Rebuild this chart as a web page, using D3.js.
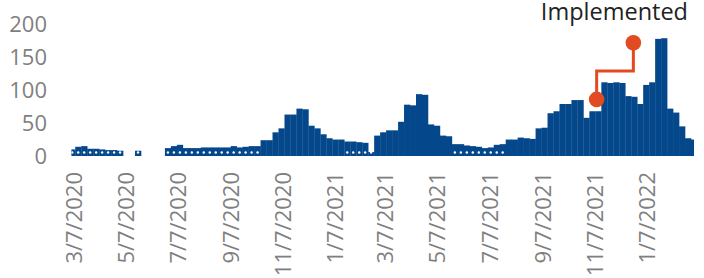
<!DOCTYPE html>
<html>
<head>
<meta charset="utf-8">
<script src="https://cdn.jsdelivr.net/npm/d3@7"></script>
<style>
  body { margin: 0; background: #fff; }
  svg { display: block; font-family: "Open Sans", sans-serif; }
</style>
</head>
<body>
<div id="wrapper"></div>
<script>
// weekly counts, first week centred on 2020-03-05
const firstWeek = new Date(2020, 2, 5)
const weeklyValues = [
  10, 14, 15, 11, 11, 10, 9, 9, 8, 0, 0, 8, 0, 0, 0, 0,
  12, 15, 17, 12, 12, 12, 13, 13, 13, 13, 13,
  15, 13, 14, 15, 15, 24, 24, 36, 42, 63, 63, 72, 71, 46, 42, 33, 27, 25, 25, 22, 22, 21, 20,
  6, 31, 36, 39, 39, 52, 78, 77, 94, 93, 48, 46, 31, 30, 18, 18,
  16, 15, 14, 12, 13, 17, 18, 25, 25, 28, 27, 26, 42, 43, 65, 68, 79, 79, 85, 85,
  58, 68, 68, 112, 111, 112, 111, 91, 90, 79, 108, 112, 178, 179, 72, 66, 45, 27, 25,
]
const weekDates = weeklyValues.map((d, i) => d3.timeDay.offset(firstWeek, i * 7))

// annotation ("Implemented")
const noteDates = [new Date(2021, 10, 9), new Date(2021, 11, 22)]
const noteValues = [86, 172]
const noteText = "Implemented"

const xTickDates = [
  "3/7/2020", "5/7/2020", "7/7/2020", "9/7/2020", "11/7/2020", "1/7/2021",
  "3/7/2021", "5/7/2021", "7/7/2021", "9/7/2021", "11/7/2021", "1/7/2022",
]
const yTicks = [0, 50, 100, 150, 200]

const parseDate = d3.timeParse("%m/%d/%Y")
const formatDate = d3.timeFormat("%-m/%-d/%Y")

const dimensions = { width: 704, height: 278 }
const barColor = "#04478a"
const noteColor = "#e24a21"
const tickColor = "#7f7f7f"

const wrapper = d3.select("#wrapper")
  .append("svg")
  .attr("width", dimensions.width)
  .attr("height", dimensions.height)

// scales
const xScale = d3.scaleTime()
  .domain([new Date(2020, 2, 4), new Date(2022, 2, 3)])
  .range([71.4, 694])

const yScale = d3.scaleLinear()
  .domain([0, 200])
  .range([156, 24.4])

const weekWidth = xScale(d3.timeDay.offset(firstWeek, 7)) - xScale(firstWeek)

wrapper.append("defs")
  .append("clipPath")
  .attr("id", "plot-clip")
  .append("rect")
  .attr("x", xScale.range()[0])
  .attr("y", 0)
  .attr("width", xScale.range()[1] - xScale.range()[0])
  .attr("height", dimensions.height)

// bars
const bars = wrapper.append("g").attr("clip-path", "url(#plot-clip)")
bars.selectAll("rect")
  .data(weeklyValues)
  .join("rect")
  .attr("x", (d, i) => xScale(weekDates[i]) - weekWidth / 2)
  .attr("width", weekWidth + 0.3)
  .attr("y", d => yScale(d))
  .attr("height", d => yScale(0) - yScale(d))
  .attr("fill", barColor)

// tiny white marks inside the low bars
bars.selectAll("circle")
  .data(weeklyValues.map((v, i) => ({ v, date: weekDates[i] })).filter(d => d.v > 0 && d.v < 23))
  .join("circle")
  .attr("cx", d => xScale(d.date))
  .attr("cy", yScale(0) - 3.5)
  .attr("r", 1.2)
  .attr("fill", "#fff")

// y axis labels
wrapper.append("g")
  .selectAll("text")
  .data(yTicks)
  .join("text")
  .attr("x", 47)
  .attr("y", d => yScale(d))
  .attr("dy", "0.35em")
  .attr("text-anchor", "end")
  .attr("font-size", 22)
  .attr("fill", tickColor)
  .text(d => d)

// x axis labels
wrapper.append("g")
  .selectAll("text")
  .data(xTickDates.map(parseDate))
  .join("text")
  .attr("transform", d => `translate(${xScale(d)},172) rotate(-90)`)
  .attr("dy", "0.35em")
  .attr("text-anchor", "end")
  .attr("font-size", 22)
  .attr("fill", tickColor)
  .text(d => formatDate(d))

// annotation step line + markers
const [x0, x1] = noteDates.map(xScale)
const [y0, y1] = noteValues.map(yScale)
const yMid = yScale((noteValues[0] + noteValues[1]) / 2)
const notePath = d3.path()
notePath.moveTo(x0, y0)
notePath.lineTo(x0, yMid)
notePath.lineTo(x1, yMid)
notePath.lineTo(x1, y1)

const notes = wrapper.append("g")
notes.append("path")
  .attr("d", notePath.toString())
  .attr("fill", "none")
  .attr("stroke", noteColor)
  .attr("stroke-width", 3)

notes.selectAll("circle")
  .data(noteValues)
  .join("circle")
  .attr("cx", (d, i) => xScale(noteDates[i]))
  .attr("cy", d => yScale(d))
  .attr("r", 7.8)
  .attr("fill", noteColor)

notes.append("text")
  .attr("x", 688)
  .attr("y", 20)
  .attr("text-anchor", "end")
  .attr("font-size", 23.5)
  .attr("fill", "#222")
  .text(noteText)
</script>
</body>
</html>
